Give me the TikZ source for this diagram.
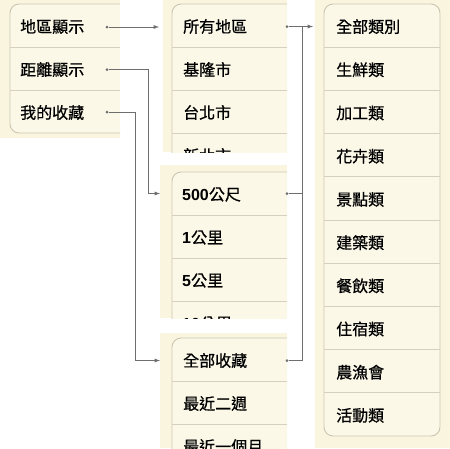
\documentclass[tikz,border=0pt]{standalone}
\usepackage{fontspec}
\newfontfamily\cjk[FakeBold=0.6]{Noto Sans CJK TC}
\newfontfamily\numfont{Liberation Sans}
\usetikzlibrary{arrows,positioning,calc}
\definecolor{creambg}{RGB}{249,245,222}
\definecolor{cardfill}{RGB}{251,248,232}
\definecolor{cardedge}{RGB}{204,198,176}
\definecolor{rowgray}{RGB}{214,208,188}
\definecolor{linkgray}{RGB}{110,110,110}

\begin{document}
\begin{tikzpicture}[
    x=1pt,y=-1pt,
    panel/.style={fill=creambg,draw=none},
    card/.style={draw=cardedge,fill=cardfill,line width=0.9pt,rounded corners=9pt},
    divider/.style={draw=rowgray,line width=0.8pt},
    item/.style={anchor=west,inner sep=0pt,font=\cjk\fontsize{16}{16}\selectfont},
    dot/.style={circle,fill=linkgray,inner sep=0pt,minimum size=3pt},
    link/.style={draw=linkgray,line width=0.9pt}
]
\useasboundingbox (0,0) rectangle (450,448);

% Display modes
\begin{scope}
\clip (0,0) rectangle (120,138);
\fill[panel] (0,0) rectangle (120,138);
\draw[card] (10,4) rectangle (150,133);
\foreach \y in {47,90} \draw[divider] (10,\y) -- (120,\y);
\node[item] (area) at (20,26.5) {地區顯示};
\node[item] (dist) at (20,69.5) {距離顯示};
\node[item] (fav) at (20,112.5) {我的收藏};
\end{scope}

% Regions
\begin{scope}
\clip (163,0) rectangle (287,152);
\fill[panel] (163,0) rectangle (287,152);
\draw[card] (172,4) rectangle (300,200);
\foreach \y in {47,90,133} \draw[divider] (172,\y) -- (287,\y);
\node[item] (allarea) at (183,26.5) {所有地區};
\node[item] (keelung) at (183,69.5) {基隆市};
\node[item] (taipei) at (183,112.5) {台北市};
\node[item] (newtpe) at (183,155.5) {新北市};
\end{scope}

% Distances
\begin{scope}
\clip (160,165) rectangle (287,318);
\fill[panel] (160,165) rectangle (287,318);
\draw[card] (172,172) rectangle (300,360);
\foreach \y in {215,258,301} \draw[divider] (172,\y) -- (287,\y);
\node[item] (m500) at (182,194.5) {{\numfont\bfseries 500}公尺};
\node[item] (km1) at (182,237.5) {{\numfont\bfseries 1}公里};
\node[item] (km5) at (182,280.5) {{\numfont\bfseries 5}公里};
\node[item] (km10) at (182,323.5) {{\numfont\bfseries 10}公里};
\end{scope}

% Favourites
\begin{scope}
\clip (160,333) rectangle (287,448);
\fill[panel] (160,333) rectangle (287,448);
\draw[card] (172,338) rectangle (300,500);
\foreach \y in {381,424} \draw[divider] (172,\y) -- (287,\y);
\node[item] (favall) at (183,360.5) {全部收藏};
\node[item] (twoweek) at (183,403.5) {最近二週};
\node[item] (onemonth) at (183,446.5) {最近一個月};
\end{scope}

% Categories
\fill[panel] (315,0) rectangle (450,448);
\draw[card] (324,4) rectangle (440,436);
\foreach \i in {1,...,9} \draw[divider] (324,{4+43.2*\i}) -- (440,{4+43.2*\i});
\foreach \t [count=\i from 0] in {全部類別,生鮮類,加工類,花卉類,景點類,建築類,餐飲類,住宿類,農漁會,活動類}
    \node[item] (cat\i) at (336,{26.6+43.2*\i}) {\t};

% Dots
\node[dot] (dArea) at (107,27) {};
\node[dot] (dDist) at (107,69.5) {};
\node[dot] (dFav) at (107,112) {};
\node[dot] (dAll) at (287,26.5) {};
\node[dot] (d500) at (287,193.5) {};
\node[dot] (dFavAll) at (287,360.5) {};
\coordinate (toRegion) at (159,27);
\coordinate (toRadius) at (160,193.5);
\coordinate (toFav) at (160,360.5);
\coordinate (toCat) at (313,26.5);
\coordinate (hub) at (302,26.5);

% Connections
\draw[link,-latex] (dArea) -- (toRegion);
\draw[link,-latex] (dDist) -- ++(41,0) |- (toRadius);
\draw[link,-latex] (dFav) -- ++(28,0) |- (toFav);
\draw[link,-latex] (dAll) -- (toCat);
\draw[link] (d500) -- (d500 -| hub);
\draw[link] (dFavAll) -| (hub);

\end{tikzpicture}
\end{document}
